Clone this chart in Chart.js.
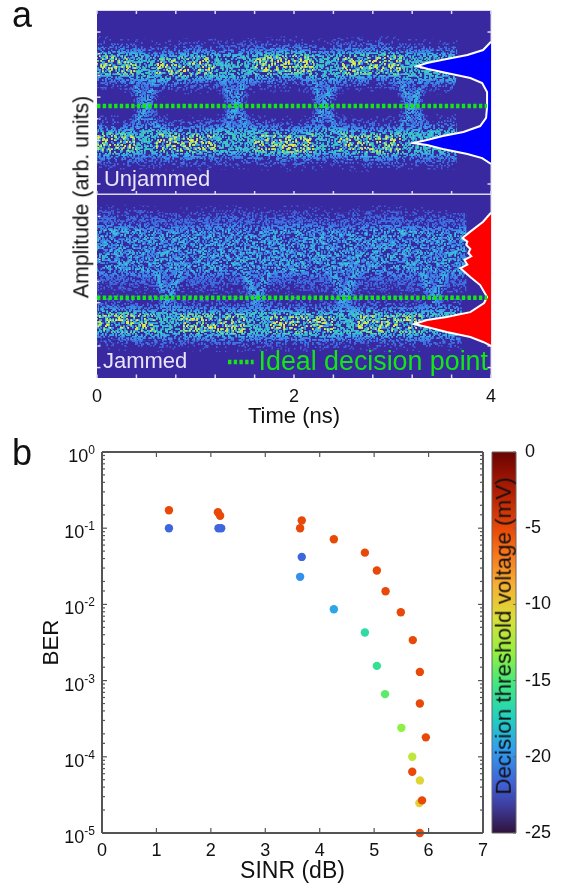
<!DOCTYPE html>
<html>
<head>
<meta charset="utf-8">
<script src="https://cdn.jsdelivr.net/npm/chart.js@4/dist/chart.umd.js"></script>
<style>
  html, body { margin: 0; background: #fff; }
  #page { position: relative; width: 561px; height: 885px; overflow: hidden; font-family: "Liberation Sans", Arial, sans-serif; color: #111; }
  canvas { position: absolute; left: 0; top: 0; }
  .letter { position: absolute; font-size: 36px; line-height: 1; left: 12px; }
  .vlabel { position: absolute; white-space: nowrap; line-height: 1; transform: translate(-50%, -50%) rotate(-90deg); }
</style>
</head>
<body>
<div id="page">
  <canvas id="eyeTop" width="561" height="885"></canvas>
  <canvas id="eyeBottom" width="561" height="885"></canvas>
  <canvas id="berChart" width="561" height="885"></canvas>
  <canvas id="colorBar" width="561" height="885"></canvas>
  <div class="letter" style="top:-3.5px">a</div>
  <div class="letter" style="top:434.5px">b</div>
  <div class="vlabel" style="left:82px;top:197px;font-size:21.3px">Amplitude (arb. units)</div>
  <div class="vlabel" style="left:504px;top:636px;font-size:22.4px">Decision threshold voltage (mV)</div>
</div>
<script>
// Панель a, верхняя глазковая диаграмма (время в нс, амплитуда 0..1)
const railTimeTop = [0, 0.2, 0.4, 0.49, 0.6, 0.8, 1.0, 1.2, 1.41, 1.6, 1.8, 2.0, 2.2, 2.31, 2.45, 2.7, 2.9, 3.1, 3.2, 3.4, 3.65];
const upperRailTop = [0.71, 0.705, 0.70, 0.69, 0.685, 0.69, 0.70, 0.695, 0.695, 0.70, 0.705, 0.71, 0.70, 0.69, 0.70, 0.705, 0.71, 0.70, 0.695, 0.695, 0.69];
const lowerRailTop = [0.285, 0.28, 0.285, 0.295, 0.29, 0.28, 0.28, 0.285, 0.29, 0.285, 0.28, 0.275, 0.28, 0.29, 0.285, 0.275, 0.275, 0.28, 0.285, 0.285, 0.285];
const upperCoreTop = [0.71, 0.705, 0.70, null, 0.685, 0.69, 0.70, 0.695, null, 0.70, 0.705, 0.71, 0.70, null, 0.70, 0.705, 0.71, 0.70, null, null, null];
const lowerCoreTop = [0.285, 0.28, 0.285, null, 0.29, 0.28, 0.28, 0.285, null, 0.285, 0.28, 0.275, 0.28, null, 0.285, 0.275, 0.275, 0.28, null, null, null];
const edgeDownTimeTop = [0.27, 0.39, 0.49, 0.6, 0.82, null, 1.19, 1.31, 1.41, 1.52, 1.74, null, 2.09, 2.21, 2.31, 2.42, 2.64, null, 2.98, 3.1, 3.2, 3.31, 3.5];
const edgeDownAmpTop = [0.66, 0.6, 0.48, 0.37, 0.3, null, 0.66, 0.6, 0.48, 0.37, 0.3, null, 0.66, 0.6, 0.48, 0.37, 0.3, null, 0.66, 0.6, 0.48, 0.37, 0.3];
const edgeUpTimeTop = [0.25, 0.39, 0.49, 0.57, 0.68, null, 1.17, 1.31, 1.41, 1.49, 1.6, null, 2.07, 2.21, 2.31, 2.39, 2.5, null, 2.96, 3.1, 3.2, 3.28, 3.39];
const edgeUpAmpTop = [0.31, 0.37, 0.48, 0.6, 0.67, null, 0.31, 0.37, 0.48, 0.6, 0.67, null, 0.31, 0.37, 0.48, 0.6, 0.67, null, 0.31, 0.37, 0.48, 0.6, 0.67];
const decisionTimeTop = [0, 3.96];
const decisionAmpTop = [0.481, 0.481];
const histAmpTop = [0.83, 0.785, 0.758, 0.736, 0.715, 0.698, 0.682, 0.66, 0.633, 0.606, 0.557, 0.476, 0.416, 0.372, 0.34, 0.318, 0.296, 0.28, 0.269, 0.247, 0.22, 0.198, 0.166];
const histCountTop = [4, 3.92, 3.76, 3.55, 3.35, 3.25, 3.36, 3.55, 3.79, 3.91, 3.96, 3.96, 3.95, 3.89, 3.72, 3.51, 3.35, 3.21, 3.35, 3.51, 3.76, 3.91, 4];

// Панель a, нижняя диаграмма (с помехой)
const cloudTimeBottom = [0, 0.4, 0.72, 1.0, 1.4, 1.62, 2.0, 2.3, 2.51, 2.9, 3.2, 3.42, 3.75];
const cloudAmpBottom = [0.70, 0.70, 0.685, 0.69, 0.70, 0.685, 0.70, 0.69, 0.685, 0.70, 0.69, 0.685, 0.685];
const railTimeBottom = [0, 0.3, 0.6, 0.72, 0.85, 1.2, 1.5, 1.62, 1.75, 2.1, 2.4, 2.51, 2.65, 3.0, 3.3, 3.42, 3.7];
const lowerRailBottom = [0.31, 0.30, 0.295, 0.30, 0.30, 0.295, 0.295, 0.30, 0.30, 0.295, 0.295, 0.30, 0.30, 0.295, 0.295, 0.30, 0.30];
const lowerCoreBottom = [0.31, 0.30, 0.295, null, 0.30, 0.295, 0.295, null, 0.30, 0.295, 0.295, null, 0.30, 0.295, 0.295, null, null];
const edgeDownTimeBottom = [0.6, 0.66, 0.72, 0.78, 0.9, null, 1.5, 1.56, 1.62, 1.68, 1.8, null, 2.39, 2.45, 2.51, 2.57, 2.69, null, 3.3, 3.36, 3.42, 3.48, 3.6];
const edgeDownAmpBottom = [0.58, 0.51, 0.44, 0.38, 0.32, null, 0.58, 0.51, 0.44, 0.38, 0.32, null, 0.58, 0.51, 0.44, 0.38, 0.32, null, 0.58, 0.51, 0.44, 0.38, 0.32];
const edgeUpTimeBottom = [0.58, 0.66, 0.72, 0.78, 0.84, null, 1.48, 1.56, 1.62, 1.68, 1.74, null, 2.37, 2.45, 2.51, 2.57, 2.63, null, 3.28, 3.36, 3.42, 3.48, 3.54];
const edgeUpAmpBottom = [0.33, 0.38, 0.44, 0.51, 0.58, null, 0.33, 0.38, 0.44, 0.51, 0.58, null, 0.33, 0.38, 0.44, 0.51, 0.58, null, 0.33, 0.38, 0.44, 0.51, 0.58];
const decisionTimeBottom = [0, 3.96];
const decisionAmpBottom = [0.439, 0.439];
const legendTime = [1.33, 1.59];
const legendAmp = [0.087, 0.087];
const histAmpBottom = [0.903, 0.854, 0.80, 0.765, 0.745, 0.727, 0.705, 0.683, 0.665, 0.645, 0.62, 0.60, 0.552, 0.508, 0.443, 0.41, 0.36, 0.333, 0.317, 0.295, 0.279, 0.251, 0.224, 0.197, 0.175];
const histCountBottom = [4, 3.92, 3.79, 3.71, 3.76, 3.75, 3.79, 3.77, 3.8, 3.73, 3.76, 3.69, 3.79, 3.89, 3.96, 3.93, 3.79, 3.55, 3.35, 3.22, 3.35, 3.55, 3.79, 3.92, 4];

const timeTicks = [0, 0.4, 0.8, 1.2, 1.6, 2, 2.4, 2.8, 3.2, 3.6, 4];
const ampTicks = [0.057, 0.175, 0.293, 0.411, 0.529, 0.647, 0.765, 0.883];

// Панель b: BER от SINR, цвет точки задаёт порог (мВ)
const upperSinr = [1.23, 2.13, 2.17, 3.67, 3.64, 4.26, 4.83, 5.05, 5.21, 5.49, 5.71, 5.84, 5.84, 5.95, 5.70, 5.88, 5.84];
const upperBer = [0.172, 0.162, 0.146, 0.126, 0.1, 0.0716, 0.0478, 0.0278, 0.0149, 0.0079, 0.0034, 0.0013, 0.0005, 0.00018, 0.0000637, 0.0000268, 0.00001];
const upperThreshold = [-5, -5, -5, -5, -5, -5, -5, -5, -5, -5, -5, -5, -5, -5, -5, -5, -5];
const lowerSinr = [1.23, 2.14, 2.19, 3.67, 3.64, 4.26, 4.83, 5.05, 5.2, 5.5, 5.70, 5.84, 5.83];
const lowerBer = [0.1, 0.1, 0.1, 0.042, 0.023, 0.00865, 0.00427, 0.00156, 0.000665, 0.00024, 0.0001, 0.000049, 0.0000248];
const lowerThreshold = [-21.5, -21.5, -21.5, -21.5, -20, -19.2, -16.5, -16, -14.6, -13.3, -11.8, -10.5, -10.3];

// Цветовая шкала
const barRange = [-25, 0];
const mapStops = [0, 0.07, 0.13, 0.22, 0.3, 0.39, 0.47, 0.56, 0.65, 0.74, 0.8, 0.9, 1];
const mapColors = ['#30123b', '#3d3d9c', '#4060d8', '#2f9ff0', '#20d0c0', '#40e880', '#90f040', '#d8e038', '#f8b030', '#f87018', '#e84808', '#b01c02', '#6a0402'];

const decadeExponents = [0, -1, -2, -3, -4, -5];

// Слои полос: ширина, плотность зерна, цвет
const railLayers = [
  { w: 56, d: 1, c: '#4060d8' },
  { w: 48, d: 2, c: '#4068e0' },
  { w: 42, d: 3, c: '#3f78e6' },
  { w: 34, d: 5, c: '#3c90ea' },
  { w: 27, d: 5, c: '#38b4e0' },
  { w: 22, d: 3, c: '#3cd0b8' }
];
const coreLayers = [
  { w: 20, d: 2, c: '#80e080' },
  { w: 16, d: 2, c: '#d0e850' },
  { w: 11, d: 1, c: '#ffe830' }
];
const edgeLayers = [
  { w: 18, d: 3, c: '#4068e0' },
  { w: 12, d: 6, c: '#3c88e8' },
  { w: 6, d: 6, c: '#38b4e0' }
];
const cloudLayers = [
  { w: 90, d: 1, c: '#4060d8' },
  { w: 80, d: 3, c: '#4068e0' },
  { w: 68, d: 5, c: '#3f74e4' },
  { w: 52, d: 5, c: '#3c90ea' },
  { w: 42, d: 2, c: '#38c8d0' }
];

const BG_COLOR = '#3829a0';
const AXIS_LIGHT = '#dcd8ee';
const AXIS_DARK = '#555555';
const GREEN = '#14e614';
const FONT = '"Liberation Sans", Arial, sans-serif';

// Зерно полос: детерминированная текстура, не данные
function grainAt(x, y) {
  let h = (x * 374761 + y * 668265) | 0;
  h = Math.imul(h ^ (h >>> 13), 1274126177);
  h ^= h >>> 16;
  return (h >>> 0) % 10;
}

function grain(ctx, color, density) {
  const cell = 1.5;
  const cells = 192;
  const tile = document.createElement('canvas');
  tile.width = tile.height = cells * cell;
  const t = tile.getContext('2d');
  t.fillStyle = color;
  for (let y = 0; y < cells; y++) {
    for (let x = 0; x < cells; x++) {
      if (grainAt(x, y) < density) t.fillRect(x * cell, y * cell, cell, cell);
    }
  }
  return ctx.createPattern(tile, 'repeat');
}

function pts(xs, ys) {
  return xs.map((x, i) => ({ x: x, y: ys[i] }));
}

function bands(ctx, xs, ys, layers, tension) {
  return layers.map(l => ({
    data: pts(xs, ys),
    borderColor: grain(ctx, l.c, l.d),
    borderWidth: l.w,
    borderCapStyle: 'butt',
    borderJoinStyle: 'round',
    pointRadius: 0,
    showLine: true,
    tension: tension,
    soft: true
  }));
}

function dotted(xs, ys) {
  return {
    data: pts(xs, ys),
    borderColor: GREEN,
    borderWidth: 4.5,
    borderDash: [3.4, 2.3],
    borderCapStyle: 'butt',
    pointRadius: 0,
    showLine: true,
    tension: 0
  };
}

function histogram(xs, ys, color) {
  return {
    data: pts(xs, ys),
    borderColor: '#ffffff',
    borderWidth: 2,
    backgroundColor: color,
    fill: 'shape',
    pointRadius: 0,
    showLine: true,
    tension: 0
  };
}

// Первые в списке рисуются первыми
function stackOrder(list) {
  list.forEach((d, i) => { d.order = list.length - i; });
  return list;
}

function mapColor(mv) {
  const t = (mv - barRange[0]) / (barRange[1] - barRange[0]);
  let i = 0;
  while (i < mapStops.length - 2 && t > mapStops[i + 1]) i++;
  const f = (t - mapStops[i]) / (mapStops[i + 1] - mapStops[i]);
  const a = parseInt(mapColors[i].slice(1), 16);
  const b = parseInt(mapColors[i + 1].slice(1), 16);
  const mix = s => Math.round(((a >> s) & 255) * (1 - f) + ((b >> s) & 255) * f);
  return `rgb(${mix(16)}, ${mix(8)}, ${mix(0)})`;
}

// Внутренние засечки и рамка (Chart.js рисует засечки только наружу)
const frame = {
  id: 'frame',
  beforeDatasetsDraw(chart, args, opts) {
    const { ctx, chartArea: a } = chart;
    if (opts.background) {
      ctx.fillStyle = opts.background;
      ctx.fillRect(a.left, a.top, a.right - a.left, a.bottom - a.top);
    }
    if (opts.under) drawFrame(chart, opts);
  },
  afterDraw(chart, args, opts) {
    if (!opts.under) drawFrame(chart, opts);
  }
};

function drawFrame(chart, opts) {
  const { ctx, chartArea: a, scales } = chart;
  ctx.save();
  ctx.strokeStyle = opts.color;
  ctx.lineWidth = opts.tickWidth || 1.5;
  (opts.xSides || []).forEach(side => {
    scales.x.ticks.forEach((tick, i) => {
      const px = scales.x.getPixelForTick(i);
      const edge = side === 'top' ? a.top : a.bottom;
      const dir = side === 'top' ? 1 : -1;
      ctx.beginPath();
      ctx.moveTo(px, edge);
      ctx.lineTo(px, edge + dir * opts.tickLen);
      ctx.stroke();
    });
  });
  (opts.ySides || []).forEach(side => {
    scales.y.ticks.forEach((tick, i) => {
      const py = scales.y.getPixelForTick(i);
      const edge = side === 'left' ? a.left : a.right;
      const dir = side === 'left' ? 1 : -1;
      const dec = Math.log10(Math.abs(tick.value) || 1);
      const len = opts.minorLen && Math.abs(dec - Math.round(dec)) > 1e-6 ? opts.minorLen : opts.tickLen;
      ctx.beginPath();
      ctx.moveTo(edge, py);
      ctx.lineTo(edge + dir * len, py);
      ctx.stroke();
    });
  });
  (opts.border || []).forEach(b => {
    ctx.lineWidth = b.width;
    ctx.beginPath();
    if (b.side === 'top') { ctx.moveTo(a.left, a.top); ctx.lineTo(a.right, a.top); }
    if (b.side === 'bottom') { ctx.moveTo(a.left, a.bottom); ctx.lineTo(a.right, a.bottom); }
    if (b.side === 'left') { ctx.moveTo(a.left, a.top); ctx.lineTo(a.left, a.bottom); }
    if (b.side === 'right') { ctx.moveTo(a.right, a.top); ctx.lineTo(a.right, a.bottom); }
    ctx.stroke();
  });
  ctx.restore();
}

// Подписи внутри панелей в координатах данных
const panelNotes = {
  id: 'panelNotes',
  afterDraw(chart, args, opts) {
    const { ctx, scales } = chart;
    (opts.items || []).forEach(n => {
      ctx.save();
      ctx.font = `${n.size}px ${FONT}`;
      ctx.fillStyle = n.color;
      ctx.textBaseline = 'alphabetic';
      ctx.fillText(n.text, scales.x.getPixelForValue(n.x), scales.y.getPixelForValue(n.y));
      ctx.restore();
    });
  }
};

// Размытие зерна, чтобы полосы были мягче
const softGrain = {
  id: 'softGrain',
  beforeDatasetDraw(chart, args) {
    if (chart.data.datasets[args.index].soft) chart.ctx.filter = 'blur(0.5px)';
  },
  afterDatasetDraw(chart) {
    chart.ctx.filter = 'none';
  }
};

// Подписи 10^n с настоящим верхним индексом
const decadeLabels = {
  id: 'decadeLabels',
  afterDraw(chart, args, opts) {
    if (!opts.exponents) return;
    const { ctx, chartArea: a, scales } = chart;
    ctx.save();
    ctx.fillStyle = '#111';
    ctx.textBaseline = 'alphabetic';
    ctx.textAlign = 'left';
    opts.exponents.forEach(e => {
      const py = scales.y.getPixelForValue(Math.pow(10, e));
      const exp = String(e);
      ctx.font = `12px ${FONT}`;
      const expW = ctx.measureText(exp).width;
      const right = a.left - 7;
      ctx.fillText(exp, right - expW, py + 2);
      ctx.font = `18px ${FONT}`;
      ctx.fillText('10', right - expW - ctx.measureText('10').width, py + 10);
    });
    ctx.restore();
  }
};

Chart.register(frame, panelNotes, softGrain, decadeLabels);

const eyeScales = {
  x: {
    type: 'linear', min: 0, max: 4, display: false,
    afterBuildTicks: s => { s.ticks = timeTicks.map(v => ({ value: v })); }
  },
  y: {
    type: 'linear', min: 0, max: 1, display: false,
    afterBuildTicks: s => { s.ticks = ampTicks.map(v => ({ value: v })); }
  }
};

function baseOptions() {
  return {
    responsive: false,
    animation: false,
    events: [],
    plugins: { legend: { display: false }, tooltip: { enabled: false } }
  };
}

function initEyeTop() {
  const canvas = document.getElementById('eyeTop');
  const ctx = canvas.getContext('2d');
  const datasets = [].concat(
    bands(ctx, edgeDownTimeTop, edgeDownAmpTop, edgeLayers, 0.3),
    bands(ctx, edgeUpTimeTop, edgeUpAmpTop, edgeLayers, 0.3),
    bands(ctx, railTimeTop, upperRailTop, railLayers, 0.3),
    bands(ctx, railTimeTop, lowerRailTop, railLayers, 0.3),
    bands(ctx, railTimeTop, upperCoreTop, coreLayers, 0.3),
    bands(ctx, railTimeTop, lowerCoreTop, coreLayers, 0.3),
    [histogram(histCountTop, histAmpTop, '#0000ff'), dotted(decisionTimeTop, decisionAmpTop)]
  );
  const options = baseOptions();
  options.layout = { padding: { left: 97, right: 70, top: 10.5, bottom: 690.5 } };
  options.scales = eyeScales;
  options.plugins.frame = {
    background: BG_COLOR, under: true, color: AXIS_LIGHT, tickLen: 3.5,
    xSides: ['top', 'bottom'], ySides: ['left', 'right'],
    border: [{ side: 'top', width: 1 }, { side: 'right', width: 1 }, { side: 'bottom', width: 2 }]
  };
  options.plugins.panelNotes = { items: [{ text: 'Unjammed', x: 0.07, y: 0.046, size: 22, color: '#e8e4f8' }] };
  new Chart(canvas, { type: 'scatter', data: { datasets: stackOrder(datasets) }, options: options });
}

function initEyeBottom() {
  const canvas = document.getElementById('eyeBottom');
  const ctx = canvas.getContext('2d');
  const datasets = [].concat(
    bands(ctx, cloudTimeBottom, cloudAmpBottom, cloudLayers, 0.3),
    bands(ctx, edgeDownTimeBottom, edgeDownAmpBottom, edgeLayers, 0.3),
    bands(ctx, edgeUpTimeBottom, edgeUpAmpBottom, edgeLayers, 0.3),
    bands(ctx, railTimeBottom, lowerRailBottom, railLayers, 0.3),
    bands(ctx, railTimeBottom, lowerCoreBottom, coreLayers, 0.3),
    [
      histogram(histCountBottom, histAmpBottom, '#ff0000'),
      dotted(decisionTimeBottom, decisionAmpBottom),
      dotted(legendTime, legendAmp)
    ]
  );
  const options = baseOptions();
  options.layout = { padding: { left: 97, right: 70, top: 195, bottom: 455 } };
  options.scales = {
    y: eyeScales.y,
    x: {
      type: 'linear', min: 0, max: 4,
      afterBuildTicks: s => { s.ticks = timeTicks.map(v => ({ value: v })); },
      afterFit: s => { s.height = 52; },
      grid: { display: false, drawTicks: false },
      border: { display: false },
      ticks: {
        autoSkip: false, maxRotation: 0, padding: 8, color: '#111',
        font: { family: FONT, size: 18 },
        callback: v => (v === 0 || v === 2 || v === 4 ? String(v) : '')
      },
      title: { display: true, text: 'Time (ns)', color: '#111', font: { family: FONT, size: 22 }, padding: { top: 0, bottom: 0 } }
    }
  };
  options.plugins.frame = {
    background: BG_COLOR, under: true, color: AXIS_LIGHT, tickLen: 3.5,
    xSides: ['bottom'], ySides: ['left', 'right'],
    border: [{ side: 'right', width: 1 }]
  };
  options.plugins.panelNotes = {
    items: [
      { text: 'Jammed', x: 0.06, y: 0.055, size: 22, color: '#e8e4f8' },
      { text: 'Ideal decision point', x: 1.64, y: 0.044, size: 26.8, color: GREEN }
    ]
  };
  new Chart(canvas, { type: 'scatter', data: { datasets: stackOrder(datasets) }, options: options });
}

function initBerChart() {
  const canvas = document.getElementById('berChart');
  const options = baseOptions();
  options.layout = { padding: { left: 38, right: 78, top: 452, bottom: 0 } };
  options.scales = {
    x: {
      type: 'linear', min: 0, max: 7,
      afterFit: s => { s.height = 52; },
      grid: { display: false, drawTicks: false },
      border: { display: false },
      ticks: { stepSize: 1, padding: 7, color: '#111', font: { family: FONT, size: 18 } },
      title: { display: true, text: 'SINR (dB)', color: '#111', font: { family: FONT, size: 23 }, padding: { top: 2, bottom: 0 } }
    },
    y: {
      type: 'logarithmic', min: 1e-5, max: 1,
      afterFit: s => { s.width = 64; },
      grid: { display: false, drawTicks: false },
      border: { display: false },
      ticks: { autoSkip: false, color: 'rgba(0,0,0,0)', font: { family: FONT, size: 18 }, callback: () => '' },
      title: { display: true, text: 'BER', color: '#111', font: { family: FONT, size: 22.4 }, padding: { top: 0, bottom: 0 } }
    }
  };
  options.plugins.frame = {
    color: AXIS_DARK, tickLen: 5, minorLen: 3, tickWidth: 1.2,
    xSides: ['top', 'bottom'], ySides: ['left', 'right'],
    border: [{ side: 'top', width: 2 }, { side: 'bottom', width: 2 }, { side: 'left', width: 2 }, { side: 'right', width: 2 }]
  };
  options.plugins.decadeLabels = { exponents: decadeExponents };
  new Chart(canvas, {
    type: 'scatter',
    data: {
      datasets: [
        { data: pts(upperSinr, upperBer), backgroundColor: upperThreshold.map(mapColor), borderWidth: 0, pointRadius: 4.2, clip: false },
        { data: pts(lowerSinr, lowerBer), backgroundColor: lowerThreshold.map(mapColor), borderWidth: 0, pointRadius: 4.2, clip: false }
      ]
    },
    options: options
  });
}

function initColorBar() {
  const canvas = document.getElementById('colorBar');
  const options = baseOptions();
  options.layout = { padding: { left: 492, right: 0, top: 452, bottom: 52 } };
  options.scales = {
    x: { display: false },
    y: {
      type: 'linear', position: 'right', min: barRange[0], max: barRange[1],
      afterFit: s => { s.width = 45; },
      grid: { display: false, drawTicks: false },
      border: { display: false },
      ticks: { stepSize: 5, padding: 9, color: '#111', font: { family: FONT, size: 18 } }
    }
  };
  options.plugins.frame = {
    color: '#666666', tickLen: 3, tickWidth: 1,
    ySides: ['right'],
    border: [{ side: 'top', width: 1 }, { side: 'bottom', width: 1 }, { side: 'left', width: 1 }, { side: 'right', width: 1 }]
  };
  new Chart(canvas, {
    type: 'bar',
    data: {
      labels: [''],
      datasets: [{
        data: [barRange],
        barPercentage: 1,
        categoryPercentage: 1,
        backgroundColor: c => {
          const a = c.chart.chartArea;
          if (!a) return mapColors[0];
          const g = c.chart.ctx.createLinearGradient(0, a.bottom, 0, a.top);
          mapStops.forEach((s, i) => g.addColorStop(s, mapColors[i]));
          return g;
        }
      }]
    },
    options: options
  });
}

initEyeTop();
initEyeBottom();
initBerChart();
initColorBar();
</script>
</body>
</html>
